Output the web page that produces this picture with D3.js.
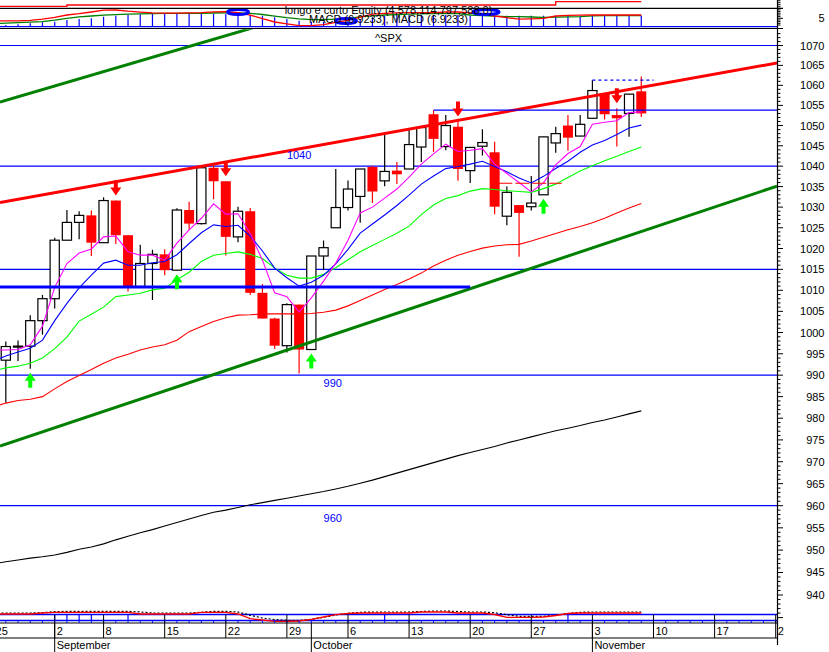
<!DOCTYPE html>
<html><head><meta charset="utf-8">
<script src="https://cdn.jsdelivr.net/npm/d3@7"></script>
<style>
body{margin:0;background:#fff}
text{font-family:"Liberation Sans",Arial,sans-serif;font-size:11px}
</style>
</head><body>
<svg id="c" width="829" height="652"></svg>
<script>
// ---------- DATA ----------
const dates = ["08-25","08-26","08-27","08-28","08-29","09-02","09-03","09-04","09-05","09-08","09-09","09-10","09-11","09-12","09-15","09-16","09-17","09-18","09-19","09-22","09-23","09-24","09-25","09-26","09-29","09-30","10-01","10-02","10-03","10-06","10-07","10-08","10-09","10-10","10-13","10-14","10-15","10-16","10-17","10-20","10-21","10-22","10-23","10-24","10-27","10-28","10-29","10-30","10-31","11-03","11-04","11-05","11-06","11-07"];
const opens  = [993.1,993.5,996.7,996.8,1002.8,1008.0,1022.0,1026.3,1028.0,1021.4,1031.6,1023.2,1010.9,1016.4,1018.6,1014.8,1029.3,1026.0,1039.6,1036.3,1022.8,1029.0,1009.4,1003.3,996.9,1006.6,996.0,1018.2,1025.0,1029.9,1032.6,1039.8,1036.4,1038.9,1039.3,1044.7,1052.8,1044.8,1049.7,1038.9,1044.9,1043.4,1027.8,1030.5,1030.1,1033.0,1045.7,1050.0,1047.4,1051.8,1058.0,1052.6,1053.0,1058.5];
const highs  = [994.5,997.9,998.1,1004.1,1008.9,1022.6,1029.3,1029.0,1029.2,1032.4,1031.6,1023.2,1020.9,1019.7,1019.8,1029.7,1031.3,1040.2,1040.3,1036.3,1030.1,1029.8,1011.5,1003.5,1006.9,1006.6,1018.2,1021.9,1039.3,1036.5,1039.3,1040.1,1048.3,1041.0,1049.0,1049.6,1053.8,1052.6,1051.0,1044.7,1049.1,1046.0,1035.0,1030.5,1037.6,1047.2,1049.7,1052.6,1052.6,1061.3,1058.0,1054.3,1057.8,1062.2];
const lows   = [988.0,983.6,993.3,991.5,999.5,1005.7,1022.0,1022.2,1018.2,1021.4,1021.1,1009.7,1010.9,1007.7,1013.6,1014.8,1024.5,1025.8,1031.9,1018.3,1021.5,1008.9,1003.3,996.1,995.3,990.4,996.0,1014.8,1025.0,1029.2,1026.2,1031.0,1035.1,1035.6,1039.3,1041.0,1043.5,1043.9,1036.4,1035.9,1042.6,1028.3,1025.6,1018.0,1029.2,1033.0,1043.3,1043.8,1047.4,1051.8,1051.5,1044.8,1047.2,1052.1];
const closes = [993.7,996.7,996.8,1002.8,1008.0,1022.0,1026.3,1028.0,1021.4,1031.6,1023.2,1010.9,1016.4,1018.6,1014.8,1029.3,1026.0,1039.6,1036.3,1022.8,1029.0,1009.4,1003.3,996.9,1006.6,996.0,1018.2,1020.2,1029.9,1034.4,1039.3,1033.8,1038.7,1038.0,1045.3,1049.5,1046.7,1050.0,1039.3,1044.6,1045.8,1030.1,1033.6,1028.6,1031.0,1047.2,1048.0,1047.0,1050.3,1058.7,1052.8,1051.8,1057.8,1053.0];

const maFast  = [995.9,995.9,996.0,997.1,1001.5,1010.7,1016.4,1018.9,1019.9,1022.8,1023.0,1019.2,1018.4,1018.4,1017.2,1021.3,1024.5,1027.3,1030.8,1028.3,1028.4,1023.6,1017.2,1009.4,1008.5,1004.8,1008.2,1012.2,1016.5,1022.0,1028.6,1030.0,1032.2,1034.4,1037.3,1040.5,1043.0,1045.4,1043.6,1043.9,1044.3,1040.5,1038.2,1036.0,1033.7,1035.9,1040.3,1043.1,1044.8,1050.3,1050.8,1051.2,1053.2,1053.4];
const ma10 = [993.3,994.5,995.4,996.3,998.2,1002.8,1006.9,1010.6,1013.6,1016.5,1017.2,1016.0,1016.0,1016.6,1016.9,1018.5,1021.2,1023.8,1025.7,1025.3,1025.6,1023.0,1019.4,1015.3,1013.0,1011.0,1011.9,1013.6,1016.3,1019.8,1023.7,1025.9,1028.1,1030.4,1032.9,1035.6,1037.6,1039.4,1039.9,1040.5,1041.2,1039.9,1038.6,1037.1,1035.9,1037.5,1039.4,1041.2,1043.4,1045.2,1046.3,1047.8,1049.4,1050.1];
const ma20 = [991.0,991.7,992.1,992.8,994.0,996.2,998.9,1002.7,1004.3,1006.0,1008.5,1008.9,1009.3,1010.1,1010.5,1012.5,1014.3,1016.9,1018.4,1018.8,1019.2,1018.6,1017.6,1015.3,1013.6,1012.9,1012.9,1013.8,1015.4,1017.3,1019.2,1020.7,1022.2,1023.7,1025.4,1028.2,1030.5,1032.1,1032.8,1033.9,1034.5,1034.3,1034.0,1033.8,1033.6,1034.5,1035.6,1037.2,1038.8,1040.1,1041.3,1042.4,1043.6,1044.7];
const ma50 = [982.6,983.5,984.1,984.4,985.0,986.8,988.5,989.9,991.3,992.8,994.0,994.9,995.9,996.6,997.1,998.2,1000.2,1001.4,1002.6,1003.5,1004.1,1004.2,1004.4,1004.4,1004.4,1004.4,1004.5,1004.8,1005.3,1006.3,1007.6,1008.9,1010.2,1011.4,1012.7,1014.1,1015.8,1017.2,1018.4,1019.3,1020.1,1020.6,1020.9,1021.0,1021.8,1022.7,1023.6,1024.5,1025.3,1026.2,1027.3,1028.6,1029.8,1030.9];
const ma200 = [946.9,947.4,947.8,948.2,948.5,948.9,949.5,950.2,950.7,951.4,952.3,953.1,953.9,954.6,955.4,956.2,957.0,957.8,958.5,959.0,959.6,960.2,960.7,961.2,961.7,962.2,962.7,963.2,963.8,964.4,965.1,965.8,966.6,967.4,968.2,969.0,969.8,970.6,971.4,972.1,972.8,973.5,974.3,975.0,975.7,976.4,977.1,977.7,978.3,979.0,979.6,980.3,981.0,981.7];

const macdLine = [1.9,2.14,2.44,2.74,3.04,3.93,5.0,5.89,6.37,6.85,7.14,7.44,7.68,7.8,7.98,7.98,7.98,7.98,8.15,8.27,8.21,7.98,7.26,6.25,5.36,4.64,4.17,4.17,4.52,4.94,5.83,6.49,6.96,7.2,7.5,7.68,7.74,7.74,7.74,6.96,6.61,6.25,5.95,5.95,5.77,5.6,5.71,5.83,5.95,6.49,6.55,6.55,6.55,6.55];
const macdSignal = [3.39,3.45,3.51,3.75,4.46,5.54,6.96,7.74,8.75,9.82,9.94,9.23,8.69,8.27,8.04,8.1,8.21,8.39,8.81,8.93,8.33,6.9,4.82,2.8,1.73,0.65,0.6,1.25,2.62,3.75,5.71,7.44,7.98,8.27,8.33,8.33,8.33,8.75,8.75,8.21,7.56,6.37,5.36,4.46,4.7,5.0,6.37,6.73,6.9,6.96,6.96,6.96,6.96,6.96];
const macdBars = [0.6,1.0,1.43,2.02,2.62,2.98,3.99,4.58,5.0,5.95,6.55,6.96,7.38,7.56,7.56,7.56,7.56,7.56,7.56,7.56,7.56,6.96,6.55,5.6,4.58,3.57,2.98,2.98,3.57,3.99,4.58,5.6,6.37,6.96,6.96,6.96,6.96,6.96,6.96,6.55,6.55,6.55,6.55,6.55,6.55,6.55,6.55,6.55,6.55,6.55,6.55,6.55,6.55,6.55];
const crossIdx = [20.0, 28.84, 40.3];
const crossVal = [8.75, 3.39, 8.75];
const equity = [4.23,4.23,4.23,4.23,4.23,4.23,4.33,4.33,4.33,4.33,4.33,4.33,4.33,4.33,4.33,4.33,4.33,4.33,4.33,4.33,4.33,4.33,4.33,4.33,4.33,4.33,4.33,4.33,4.33,4.33,4.33,4.33,4.33,4.33,4.33,4.33,4.33,4.33,4.33,4.33,4.33,4.33,4.33,4.33,4.33,4.33,4.578,4.578,4.578,4.578,4.578,4.578,4.578,4.578];

const osc = [85,85,85,85,95,102,102,102,102,102,102,102,85,85,85,85,85,102,102,102,85,38,25,12,12,15,32,55,78,90,95,95,95,95,95,105,105,105,95,95,95,80,52,52,52,55,70,90,95,95,95,95,95,95];
const oscSlow = [85,85,85,85,88,98,102,102,102,102,102,102,95,85,85,85,85,92,102,102,95,62,35,20,12,12,22,42,65,82,92,95,95,95,95,100,105,105,100,95,95,88,68,52,52,52,62,80,92,95,95,95,95,95];
const oscBarIdx = [5,6,7,8,11,32,47];
const oscLevels = [80, 20];

const levels = [1070, 1040, 1015, 990, 960];
const levelLabels = [{v:1040, i:24, above:true}, {v:990, i:27, above:false}, {v:960, i:27, above:false}];
const supportThick = {v:1010.8, from:0, to:39};
const resistance = {v:1053.8, from:36, to:64.1};
const highDash = {v:1061.3, from:49, to:54};
const stopRed = {v:1035.8, from:41.3, to:46.5};
const trendRed = [[0.524,1031.1],[64.1,1065.6]];
const trendGreenUp = [[0.524,1055.8],[20.57,1073.9]];
const trendGreenLow = [[0.524,973.6],[64.1,1035.1]];
const sellIdx = [10, 19, 38, 51];
const buyIdx = [3, 15, 26, 45];

const weekIdx = [0,5,9,14,19,24,29,34,39,44,49,54,59,64];
const weekLbl = ["25","2","8","15","22","29","6","13","20","27","3","10","17","24"];
const monthIdx = [5,26,49];
const monthLbl = ["September","October","November"];

// ---------- SCALES ----------
const W = 829, H = 652, AX = 777;
const x = d3.scaleLinear().domain([0,64]).range([-6.4,775.7]);
const y = d3.scaleLog().domain([940,1070]).range([595.0,45.5]);
const yTop = d3.scaleLinear().domain([0,10]).range([26.7,9.9]);
const yEq = d3.scaleLinear().domain([4.0,4.7]).range([9.39,0.08]);
const yBot = d3.scaleLinear().domain([0,100]).range([622.5,612.5]);

const svg = d3.select("#c");
svg.append("rect").attr("width",W).attr("height",H).attr("fill","#fff");
const defs = svg.append("defs");
defs.append("clipPath").attr("id","cm").append("rect").attr("x",0).attr("y",29.3).attr("width",AX).attr("height",623-29.3);
defs.append("clipPath").attr("id","ct").append("rect").attr("x",0).attr("y",0).attr("width",AX).attr("height",28.5);
defs.append("clipPath").attr("id","cd").append("rect").attr("x",0).attr("y",623).attr("width",784).attr("height",30);

const BLUE = "#0000ff", RED = "#ff0000", DGREEN = "#008000", LGREEN = "#00ff00", MAG = "#ff00ff";

// ---------- TOP PANEL ----------
const topG = svg.append("g").attr("clip-path","url(#ct)");
topG.append("path").datum(equity).attr("fill","none").attr("stroke",RED).attr("stroke-width",1.3)
  .attr("d", d3.line().curve(d3.curveStepAfter).x((d,i)=>x(i)).y(d=>yEq(d)));
topG.append("line").attr("x1",0).attr("x2",AX).attr("y1",yTop(0)).attr("y2",yTop(0)).attr("stroke",BLUE).attr("stroke-width",1.3);
topG.selectAll(".hb").data(macdBars).join("line")
  .attr("x1",(d,i)=>x(i)).attr("x2",(d,i)=>x(i)).attr("y1",yTop(0)).attr("y2",d=>yTop(d))
  .attr("stroke",BLUE).attr("stroke-width",1.2);
topG.append("path").datum(macdLine).attr("fill","none").attr("stroke",DGREEN).attr("stroke-width",1.3)
  .attr("d", d3.line().x((d,i)=>x(i)).y(d=>yTop(d)));
topG.append("path").datum(macdSignal).attr("fill","none").attr("stroke",RED).attr("stroke-width",1.3)
  .attr("d", d3.line().x((d,i)=>x(i)).y(d=>yTop(d)));
crossIdx.forEach((ci,k)=>{
  topG.append("ellipse").attr("cx",x(ci)).attr("cy",yTop(crossVal[k])).attr("rx",k==2?13:10.5).attr("ry",2.6)
    .attr("fill","none").attr("stroke",BLUE).attr("stroke-width",3);
});
svg.append("text").attr("x",388.5).attr("y",14.3).attr("text-anchor","middle").text("longo e curto Equity (4,578,114,797,588.0)");
svg.append("text").attr("x",388.5).attr("y",22.6).attr("text-anchor","middle").text("MACD (6.9233), MACD (6.9233)");
svg.append("line").attr("x1",0).attr("x2",783).attr("y1",8.3).attr("y2",8.3).attr("stroke","#000").attr("stroke-width",1.2);
svg.append("line").attr("x1",0).attr("x2",783).attr("y1",28.5).attr("y2",28.5).attr("stroke","#000").attr("stroke-width",1.2);

// ---------- MAIN PANEL ----------
const mainG = svg.append("g").attr("clip-path","url(#cm)");
mainG.selectAll(".lv").data(levels).join("line")
  .attr("x1",0).attr("x2",AX).attr("y1",d=>y(d)).attr("y2",d=>y(d)).attr("stroke",BLUE).attr("stroke-width",1.2);
mainG.selectAll(".ol").data(oscLevels).join("line")
  .attr("x1",0).attr("x2",AX).attr("y1",d=>yBot(d)).attr("y2",d=>yBot(d)).attr("stroke",BLUE).attr("stroke-width",1.3);
mainG.selectAll(".ob").data(oscBarIdx).join("line")
  .attr("x1",d=>x(d)).attr("x2",d=>x(d)).attr("y1",yBot(oscLevels[1])).attr("y2",yBot(oscLevels[0])).attr("stroke",BLUE).attr("stroke-width",1.2);
mainG.append("path").datum(oscSlow).attr("fill","none").attr("stroke","#000").attr("stroke-width",1.2).attr("stroke-dasharray","2,2")
  .attr("d", d3.line().x((d,i)=>x(i)).y(d=>yBot(d)-1));
mainG.append("path").datum(osc).attr("fill","none").attr("stroke",RED).attr("stroke-width",1.3)
  .attr("d", d3.line().x((d,i)=>x(i)).y(d=>yBot(d)));

// candles
const cg = mainG.append("g");
opens.forEach((o,i)=>{
  const c = closes[i], up = c >= o, col = up ? "#000" : RED;
  cg.append("line").attr("x1",x(i)).attr("x2",x(i)).attr("y1",y(highs[i])).attr("y2",y(lows[i]))
    .attr("stroke",col).attr("stroke-width",1.2);
  const yt = y(Math.max(o,c)), yb = y(Math.min(o,c));
  if (up) {
    cg.append("rect").attr("x",x(i)-4.6).attr("y",yt).attr("width",9.2).attr("height",Math.max(yb-yt,1))
      .attr("fill","#fff").attr("stroke","#000").attr("stroke-width",1.2);
  } else {
    cg.append("rect").attr("x",x(i)-5).attr("y",yt).attr("width",10).attr("height",Math.max(yb-yt,1.5))
      .attr("fill",RED);
  }
});

// moving averages
const lineP = d3.line().x((d,i)=>x(i)).y(d=>y(d));
[[ma200,"#000"],[ma50,RED],[ma20,LGREEN],[ma10,BLUE],[maFast,MAG]].forEach(([arr,col])=>{
  mainG.append("path").datum(arr).attr("fill","none").attr("stroke",col).attr("stroke-width",1.1).attr("d",lineP);
});

// trend lines
function trend(a,b,col,w){
  const x1=x(a[0]), y1=y(a[1]), x2=x(b[0]), y2=y(b[1]);
  const m=(y2-y1)/(x2-x1);
  mainG.append("line").attr("x1",0).attr("y1",y1+m*(0-x1)).attr("x2",AX).attr("y2",y1+m*(AX-x1))
    .attr("stroke",col).attr("stroke-width",w);
}
trend(trendRed[0],trendRed[1],RED,3);
trend(trendGreenUp[0],trendGreenUp[1],DGREEN,3);
trend(trendGreenLow[0],trendGreenLow[1],DGREEN,3);

// horizontal study lines
mainG.append("line").attr("x1",Math.max(0,x(supportThick.from))).attr("x2",x(supportThick.to))
  .attr("y1",y(supportThick.v)).attr("y2",y(supportThick.v)).attr("stroke",BLUE).attr("stroke-width",3);
mainG.append("line").attr("x1",x(resistance.from)).attr("x2",x(resistance.to))
  .attr("y1",y(resistance.v)).attr("y2",y(resistance.v)).attr("stroke",BLUE).attr("stroke-width",1.2);
mainG.append("line").attr("x1",x(highDash.from)).attr("x2",x(highDash.to))
  .attr("y1",y(highDash.v)).attr("y2",y(highDash.v)).attr("stroke",BLUE).attr("stroke-width",1.2).attr("stroke-dasharray","3,3");
mainG.append("line").attr("x1",x(stopRed.from)).attr("x2",x(stopRed.to))
  .attr("y1",y(stopRed.v)).attr("y2",y(stopRed.v)).attr("stroke",RED).attr("stroke-width",1.1).attr("stroke-dasharray","14,3");

// arrows
sellIdx.forEach(i=>{
  const cx=x(i), t=y(highs[i])-5;
  mainG.append("path").attr("fill",RED)
    .attr("d",`M${cx-2},${t-15}H${cx+2}V${t-8}H${cx+5.5}L${cx},${t}L${cx-5.5},${t-8}H${cx-2}Z`);
});
buyIdx.forEach(i=>{
  const cx=x(i), t=y(lows[i])+4;
  mainG.append("path").attr("fill",LGREEN)
    .attr("d",`M${cx-2},${t+15}H${cx+2}V${t+8}H${cx+5.5}L${cx},${t}L${cx-5.5},${t+8}H${cx-2}Z`);
});

// level labels
levelLabels.forEach(l=>{
  mainG.append("text").attr("x",x(l.i)).attr("y", l.above ? y(l.v)-7 : y(l.v)+(l.v<970?16:12))
    .attr("fill",BLUE).text(l.v);
});
svg.append("text").attr("x",388.5).attr("y",42).attr("text-anchor","middle").text("^SPX");

// ---------- RIGHT AXIS ----------
svg.append("line").attr("x1",AX+0.5).attr("x2",AX+0.5).attr("y1",0).attr("y2",645).attr("stroke","#000").attr("stroke-width",1.2);
const ax = svg.append("g");
for (let p=935; p<=1073; p++){
  const yy = y(p);
  if (yy < 30 || yy > 621) continue;
  const major = p%5===0;
  ax.append("line").attr("x1",AX).attr("x2",AX+(major?6:3.5)).attr("y1",yy).attr("y2",yy).attr("stroke","#000").attr("stroke-width",1);
  if (major && p>=940 && p<=1070) ax.append("text").attr("x",824.5).attr("y",yy+4).attr("text-anchor","end").text(p);
}
for (let v=1; v<=10; v++){
  ax.append("line").attr("x1",AX).attr("x2",AX+(v===5?6:3.5)).attr("y1",yTop(v)).attr("y2",yTop(v)).attr("stroke","#000");
}
[4.2,4.35,4.5,4.65].forEach(v=>{
  ax.append("line").attr("x1",AX).attr("x2",AX+3.5).attr("y1",yEq(v)).attr("y2",yEq(v)).attr("stroke","#000");
});
ax.append("text").attr("x",824.5).attr("y",yTop(5)+4).attr("text-anchor","end").text("5");

// ---------- DATE AXIS ----------
const dx = svg.append("g");
dx.append("line").attr("x1",0).attr("x2",AX).attr("y1",623).attr("y2",623).attr("stroke","#000").attr("stroke-width",1.2);
dx.append("line").attr("x1",0).attr("x2",AX).attr("y1",638).attr("y2",638).attr("stroke","#000").attr("stroke-width",1.2);
d3.range(0,65).forEach(i=>{
  dx.append("line").attr("x1",x(i)).attr("x2",x(i)).attr("y1",620.5).attr("y2",623).attr("stroke",BLUE);
});
weekIdx.forEach((wi,k)=>{
  dx.append("line").attr("x1",x(wi)).attr("x2",x(wi)).attr("y1",614.5).attr("y2",638).attr("stroke","#000");
});
monthIdx.forEach(mi=>{
  dx.append("line").attr("x1",x(mi)).attr("x2",x(mi)).attr("y1",623).attr("y2",652).attr("stroke","#000");
});
const dl = svg.append("g").attr("clip-path","url(#cd)");
weekIdx.forEach((wi,k)=>{
  dl.append("text").attr("x",x(wi)+2).attr("y",635).text(weekLbl[k]);
});
monthIdx.forEach((mi,k)=>{
  dl.append("text").attr("x",x(mi)+2).attr("y",649).text(monthLbl[k]);
});
</script>
</body></html>
